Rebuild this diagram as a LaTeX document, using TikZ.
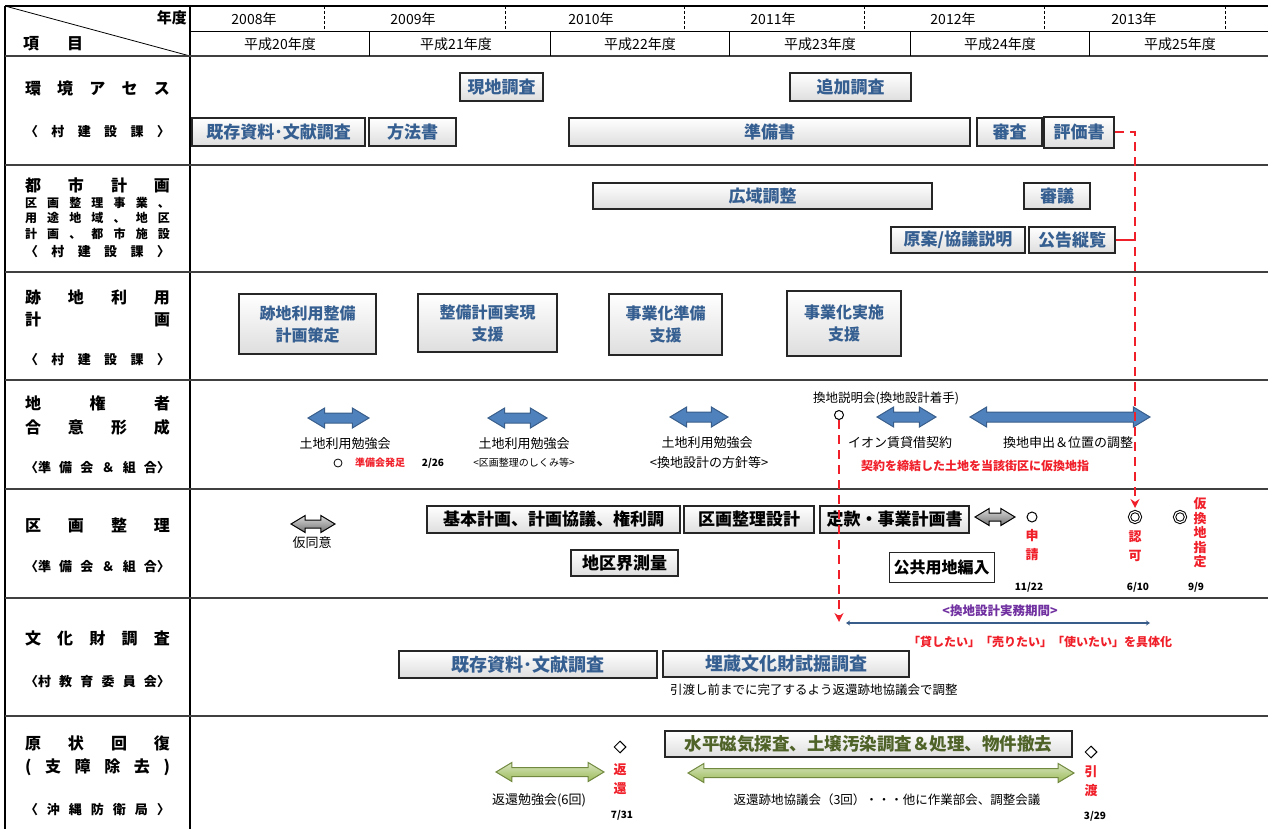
\documentclass[tikz,border=0pt]{standalone}
\usepackage{fontspec}
\setmainfont{Noto Sans CJK JP}
\usetikzlibrary{shapes.arrows,shapes.geometric,shadows,arrows.meta}
\definecolor{jpblue}{HTML}{365F91}
\definecolor{bluemid}{HTML}{4F81BD}
\definecolor{bluedark}{HTML}{385D8A}
\definecolor{greenlight}{HTML}{D7E4BD}
\definecolor{greenmid}{HTML}{9BBB59}
\definecolor{greendark}{HTML}{71893F}
\definecolor{olive}{HTML}{4F6228}
\definecolor{jred}{HTML}{F0202A}
\definecolor{jpurple}{HTML}{7030A0}
\newcommand\fsz[1]{\fontsize{#1}{#1}\selectfont}
\newcommand\gbox[7]{\node[#6, minimum width={(#4)-(#2)}, minimum height={(#5)-(#3)}] (#1) at ({((#2)+(#4))/2},{((#3)+(#5))/2}) {#7};}
\newcommand\spr[1]{\makebox[145pt]{#1}}
\tikzset{
  box/.style={draw=black!85, line width=1.3pt, top color=white, bottom color=black!13,
    drop shadow={shadow xshift=1.3pt, shadow yshift=-1.3pt, fill=black!50, opacity=.6},
    inner sep=0pt, font=\bfseries\fsz{17}, text=jpblue},
  box2/.style={box, font=\bfseries\fontsize{16}{22}\selectfont, align=center},
  kbox/.style={box, text=black},
  gbx/.style={box, text=olive},
  wbox/.style={draw=black!85, line width=1pt, fill=white, inner sep=0pt, font=\bfseries\fsz{16}, text=black},
  rowline/.style={line width=1.2pt, black!75},
  lab/.style={inner sep=0pt, font=\bfseries\fsz{16}},
  slab/.style={inner sep=0pt, font=\bfseries\fsz{13}},
  tlab/.style={inner sep=0pt, font=\bfseries\fontsize{12}{12}\selectfont},
  lbl/.style={inner sep=0pt, font=\fsz{13}},
  rlbl/.style={inner sep=0pt, font=\bfseries\fsz{12}, text=jred},
  rvert/.style={inner sep=0pt, font=\bfseries\fontsize{13}{19}\selectfont, text=jred, align=center},
  datelbl/.style={inner sep=0pt, font=\bfseries\fsz{10}},
  darrow/.style={double arrow, double arrow tip angle=62, inner xsep=0pt, line width=1pt},
  bluearr/.style={darrow, inner ysep=4.5pt, double arrow head extend=5pt, draw=bluedark, fill=bluemid},
  grayarr/.style={darrow, inner ysep=3.5pt, double arrow head extend=4.5pt, draw=black, top color=black!15, bottom color=black!55},
  greenarr/.style={darrow, inner ysep=4pt, double arrow head extend=5pt, draw=greendark, top color=greenlight, bottom color=greenmid},
  reddash/.style={jred, line width=2pt, dash pattern=on 9pt off 6pt},
  cmark/.style={circle, draw=black, line width=1pt, inner sep=0pt, minimum size=10pt},
  dmark/.style={circle, draw=black, line width=1pt, double, double distance=1.2pt, inner sep=0pt, minimum size=11pt},
  dia/.style={diamond, draw=black, line width=1pt, inner sep=0pt, minimum size=12pt},
}
\begin{document}
\begin{tikzpicture}[x=1pt,y=-1pt]
\useasboundingbox (0,0) rectangle (1268,829);
% ---------- table frame ----------
\draw[line width=2pt] (5,6) -- (1268,6);
\draw[line width=2pt] (5,6) -- (5,829);
\draw[line width=1.2pt] (190,6) -- (190,829);
\draw[line width=1pt] (190,32) -- (1268,32);
\draw[line width=0.8pt] (5,6) -- (190,56);
\draw[rowline] (5,56) -- (1268,56);
\foreach \yy in {165,272,380,489,598,716} \draw[rowline] (5,\yy) -- (1268,\yy);
\foreach \xx in {324,505,684,864,1044,1225} \draw[line width=0.8pt, dash pattern=on 3pt off 2pt] (\xx,6) -- (\xx,32);
\foreach \xx in {369,550,729,910,1089} \draw[line width=1pt] (\xx,32) -- (\xx,56);
% ---------- header ----------
\node[inner sep=0pt, anchor=east, font=\bfseries\fsz{15}] (nendo) at (187,18) {年度};
\node[inner sep=0pt, anchor=west, font=\bfseries\fsz{16}] (komoku) at (23,44) {\makebox[60pt]{項\hfill 目}};
\foreach \nm/\xx/\tx in {y8/254/2008年, y9/413/2009年, y10/591/2010年, y11/773/2011年, y12/953/2012年, y13/1134/2013年}
  \node[inner sep=0pt, font=\fsz{14}] (\nm) at (\xx,19) {\tx};
\foreach \nm/\xx/\tx in {h20/280/平成20年度, h21/456/平成21年度, h22/640/平成22年度, h23/820/平成23年度, h24/1000/平成24年度, h25/1180/平成25年度}
  \node[inner sep=0pt, font=\fsz{14}] (\nm) at (\xx,44) {\tx};
% ---------- left labels ----------
\node[lab] (l1a) at (97.5,88) {\spr{環\hfill 境\hfill ア\hfill セ\hfill ス}};
\node[slab] (l1b) at (97.5,132) {\spr{〈\hfill 村\hfill 建\hfill 設\hfill 課\hfill 〉}};
\node[lab] (l2a) at (97.5,185) {\spr{都\hfill 市\hfill 計\hfill 画}};
\node[tlab] (l2b) at (97.5,203) {\spr{区\hfill 画\hfill 整\hfill 理\hfill 事\hfill 業\hfill 、}};
\node[tlab] (l2c) at (97.5,218) {\spr{用\hfill 途\hfill 地\hfill 域\hfill 、\hfill 地\hfill 区}};
\node[tlab] (l2d) at (97.5,234) {\spr{計\hfill 画\hfill 、\hfill 都\hfill 市\hfill 施\hfill 設}};
\node[slab] (l2e) at (97.5,252) {\spr{〈\hfill 村\hfill 建\hfill 設\hfill 課\hfill 〉}};
\node[lab] (l3a) at (97.5,297) {\spr{跡\hfill 地\hfill 利\hfill 用}};
\node[lab] (l3b) at (97.5,319) {\spr{計\hfill 画}};
\node[slab] (l3c) at (97.5,360) {\spr{〈\hfill 村\hfill 建\hfill 設\hfill 課\hfill 〉}};
\node[lab] (l4a) at (97.5,403) {\spr{地\hfill 権\hfill 者}};
\node[lab] (l4b) at (97.5,427) {\spr{合\hfill 意\hfill 形\hfill 成}};
\node[slab] (l4c) at (97.5,468) {\spr{〈準\hfill 備\hfill 会\hfill ＆\hfill 組\hfill 合〉}};
\node[lab] (l5a) at (97.5,525) {\spr{区\hfill 画\hfill 整\hfill 理}};
\node[slab] (l5b) at (97.5,567) {\spr{〈準\hfill 備\hfill 会\hfill ＆\hfill 組\hfill 合〉}};
\node[lab] (l6a) at (97.5,638) {\spr{文\hfill 化\hfill 財\hfill 調\hfill 査}};
\node[slab] (l6b) at (97.5,682) {\spr{〈村\hfill 教\hfill 育\hfill 委\hfill 員\hfill 会〉}};
\node[lab] (l7a) at (97.5,743) {\spr{原\hfill 状\hfill 回\hfill 復}};
\node[lab] (l7b) at (97.5,767) {\spr{(\hfill 支\hfill 障\hfill 除\hfill 去\hfill )}};
\node[slab] (l7c) at (97.5,810) {\spr{〈\hfill 沖\hfill 縄\hfill 防\hfill 衛\hfill 局\hfill 〉}};
% ---------- row 1 ----------
\gbox{genchi}{460}{73}{543}{101}{box}{現地調査}
\gbox{tsuika}{790}{73}{911}{101}{box}{追加調査}
\gbox{kizon1}{192}{118}{365}{146}{box}{既存資料･文献調査}
\gbox{hoho}{369}{118}{456}{146}{box}{方法書}
\gbox{junbi}{569}{118}{970}{146}{box}{準備書}
\gbox{shinsa}{977}{118}{1042}{146}{box}{審査}
\gbox{hyoka}{1044}{117}{1114}{148}{box, line width=1.8pt}{評価書}
% ---------- row 2 ----------
\gbox{koiki}{593}{183}{932}{209}{box}{広域調整}
\gbox{shingi}{1024}{183}{1090}{209}{box}{審議}
\gbox{gen}{891}{227}{1025}{253}{box}{原案/協議説明}
\gbox{koku}{1029}{227}{1115}{253}{box}{公告縦覧}
% ---------- row 3 ----------
\gbox{ato1}{239}{294}{376}{354}{box2}{跡地利用整備\\計画策定}
\gbox{ato2}{418}{294}{557}{352}{box2}{整備計画実現\\支援}
\gbox{ato3}{609}{294}{722}{355}{box2}{事業化準備\\支援}
\gbox{ato4}{787}{291}{901}{356}{box2}{事業化実施\\支援}
% ---------- row 4 ----------
\node[bluearr, minimum height=61pt] (ba1) at (338.5,418) {};
\node[bluearr, minimum height=59pt] (ba2) at (517.5,418) {};
\node[bluearr, minimum height=58pt] (ba3) at (699,417) {};
\node[bluearr, minimum height=59pt] (ba4) at (906.5,417) {};
\node[bluearr, minimum height=180pt] (ba5) at (1060,417) {};
\node[lbl] (t4a) at (345,444) {土地利用勉強会};
\node[lbl] (t4b) at (524,444) {土地利用勉強会};
\node[inner sep=0pt, font=\fsz{10}] (t4b2) at (524,463) {<区画整理のしくみ等>};
\node[lbl] (t4c) at (707,443) {土地利用勉強会};
\node[lbl] (t4c2) at (709,463) {<換地設計の方針等>};
\node[circle, draw=black, line width=0.8pt, inner sep=0pt, minimum size=8pt] (jmk) at (338,463) {};
\node[inner sep=0pt, font=\bfseries\fsz{10}, text=jred] (jhs) at (380,463) {準備会発足};
\node[datelbl] (d226) at (433,463) {2/26};
\node[inner sep=0pt, font=\fsz{12.5}] (kset) at (886,398) {換地説明会(換地設計着手)};
\node[cmark, minimum size=9pt] (kmk) at (839,415) {};
\node[lbl] (aeon) at (900,443) {イオン賃貸借契約};
\node[lbl] (kmo) at (1068,443) {換地申出＆位置の調整};
\node[rlbl] (keiy) at (975,466) {契約を締結した土地を当該街区に仮換地指};
% ---------- row 5 ----------
\node[grayarr, minimum height=44pt] (ga1) at (313,524) {};
\node[lbl] (kdoi) at (312,543) {仮同意};
\gbox{kihon}{427}{506}{680}{533}{kbox}{基本計画、計画協議、権利調}
\gbox{kukaku}{684}{506}{814}{533}{kbox}{区画整理設計}
\gbox{teikan}{820}{506}{969}{533}{kbox}{定款・事業計画書}
\gbox{chiku}{571}{550}{678}{576}{kbox}{地区界測量}
\gbox{kokyo}{889}{552}{994}{582}{wbox}{公共用地編入}
\node[grayarr, minimum height=40pt] (ga2) at (995,517) {};
\node[cmark] (shmk) at (1032,517) {};
\node[rvert] (shinsei) at (1032,545) {申\\請};
\node[dmark] (ninka) at (1135,517) {};
\node[rvert] (ninkat) at (1135,546) {認\\可};
\node[dmark] (kari) at (1180,517) {};
\node[rvert, font=\bfseries\fontsize{13}{14.5}\selectfont] (karit) at (1200,533) {仮\\換\\地\\指\\定};
\node[datelbl] (d1122) at (1029,587) {11/22};
\node[datelbl] (d610) at (1138,587) {6/10};
\node[datelbl] (d99) at (1196,587) {9/9};
% ---------- row 6 ----------
\gbox{kizon2}{399}{651}{657}{678}{box, font=\bfseries\fsz{18}}{既存資料･文献調査}
\gbox{maizo}{663}{651}{909}{677}{box, font=\bfseries\fsz{18}}{埋蔵文化財試掘調査}
\node[inner sep=0pt, anchor=west, font=\fsz{12.5}] (hiki) at (670,690) {引渡し前までに完了するよう返還跡地協議会で調整};
\node[inner sep=0pt, font=\bfseries\fsz{12.5}, text=jpurple] (jitsu) at (1000,611) {<換地設計実務期間>};
\node[inner sep=0pt, font=\bfseries\fsz{12}, text=jred] (gutai) at (1040,642) {「貸したい」「売りたい」「使いたい」を具体化};
\coordinate (bl1) at (846,623);
\coordinate (bl2) at (1150,623);
\draw[bluedark, line width=2pt, {Stealth[length=4pt,width=5pt]}-{Stealth[length=4pt,width=5pt]}] (bl1) -- (bl2);
% ---------- row 7 ----------
\node[greenarr, minimum height=108pt] (gr1) at (550,772) {};
\node[lbl] (hbk) at (539,800) {返還勉強会(6回)};
\node[dia] (hmk) at (620,747) {};
\node[rvert] (henk) at (620,779) {返\\還};
\node[datelbl] (d731) at (622,815) {7/31};
\gbox{suihei}{665}{731}{1072}{757}{gbx, font=\bfseries\fsz{17.5}}{水平磁気探査、土壌汚染調査＆処理、物件撤去}
\node[greenarr, minimum height=386pt] (gr2) at (881,773) {};
\node[inner sep=0pt, font=\fsz{12.5}] (hkyo) at (887,800) {返還跡地協議会（3回）・・・他に作業部会、調整会議};
\node[dia] (imk) at (1091,752) {};
\node[rvert] (hikiw) at (1091,781) {引\\渡};
\node[datelbl] (d329) at (1095,816) {3/29};
% ---------- red dashed connectors ----------
\draw[reddash, -{Stealth[length=9pt,width=9pt]}, shorten >=3pt] (hyoka.east) -| (ninka.north);
\coordinate (kj) at (1135,240);
\draw[jred, line width=2pt] (koku.east) -- (kj);
\coordinate (k2end) at (839,622);
\draw[reddash, -{Stealth[length=9pt,width=9pt]}] (kmk.south) -- (k2end);
\end{tikzpicture}
\end{document}
